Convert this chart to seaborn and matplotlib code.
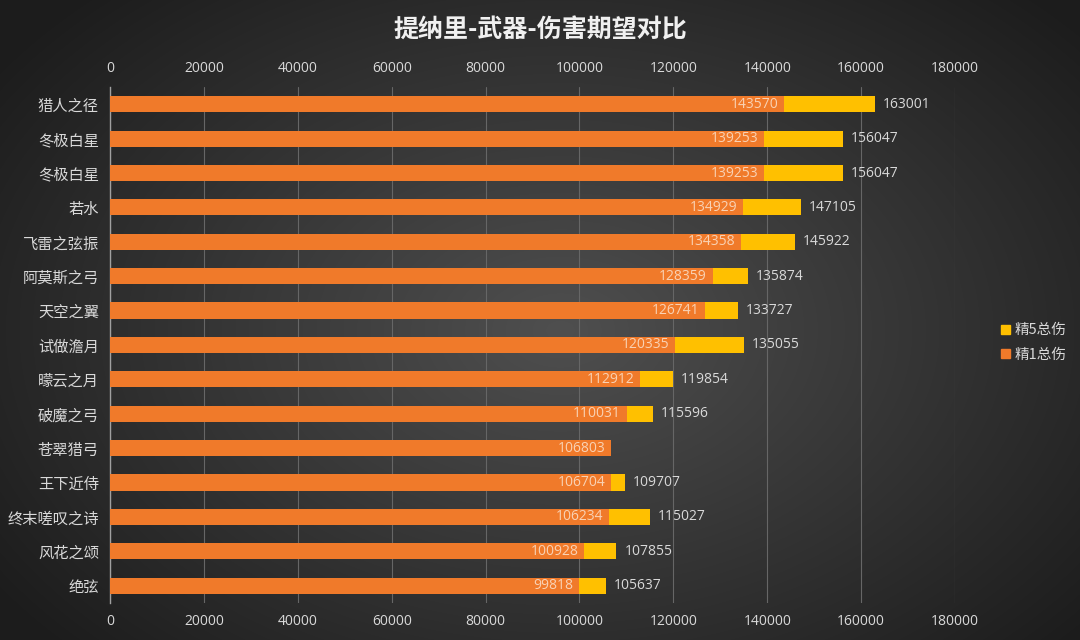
import numpy as np
import pandas as pd
import matplotlib
matplotlib.use("Agg")
import matplotlib.pyplot as plt
import seaborn as sns

# 数据
weapons = ["猎人之径", "冬极白星", "冬极白星", "若水", "飞雷之弦振", "阿莫斯之弓", "天空之翼",
           "试做澹月", "曚云之月", "破魔之弓", "苍翠猎弓", "王下近侍", "终末嗟叹之诗", "风花之颂", "绝弦"]
r1_dmg = [143570, 139253, 139253, 134929, 134358, 128359, 126741,
          120335, 112912, 110031, 106803, 106704, 106234, 100928, 99818]
r5_dmg = [163001, 156047, 156047, 147105, 145922, 135874, 133727,
          135055, 119854, 115596, np.nan, 109707, 115027, 107855, 105637]
x_ticks = [0, 20000, 40000, 60000, 80000, 100000, 120000, 140000, 160000, 180000]

df = pd.DataFrame({"pos": range(len(weapons)), "weapon": weapons,
                   "r1": r1_dmg, "r5": r5_dmg})

sns.set_theme(style="dark")
plt.rcParams["font.family"] = ["Noto Sans CJK SC", "DejaVu Sans"]

ORANGE = "#F07A2A"
YELLOW = "#FFC000"
TXT = "#d9d9d9"

fig = plt.figure(figsize=(10.8, 6.4), dpi=100)

# 背景渐变
bg = fig.add_axes([0, 0, 1, 1], zorder=-10)
yy, xx = np.mgrid[0:640, 0:1080]
d = np.sqrt(((xx - 560) / 620) ** 2 + ((yy - 330) / 420) ** 2)
v = np.clip(0.31 - 0.18 * d, 0.11, 0.32)
bg.imshow(np.dstack([v, v, v]), aspect="auto", extent=[0, 1, 0, 1])
bg.set_axis_off()

ax = fig.add_axes([0.1019, 0.058, 0.7824, 0.806])
ax.set_facecolor("none")

sns.barplot(data=df, x="r5", y="pos", orient="h", color=YELLOW, width=0.47,
            saturation=1, linewidth=0, ax=ax, zorder=3)
sns.barplot(data=df, x="r1", y="pos", orient="h", color=ORANGE, width=0.47,
            saturation=1, linewidth=0, ax=ax, zorder=4)

for i, (a, b) in enumerate(zip(r1_dmg, r5_dmg)):
    ax.text(a - 1200, i, str(a), ha="right", va="center", fontsize=10,
            color="#f9d2b4", zorder=6, family=["Open Sans", "DejaVu Sans"])
    if not np.isnan(b):
        ax.text(b + 1700, i, str(int(b)), ha="left", va="center", fontsize=10,
                color=TXT, zorder=6, family=["Open Sans", "DejaVu Sans"])

ax.set_xlim(0, 180000)
ax.set_ylim(14.5, -0.5)
ax.set_xticks(x_ticks)
ax.set_xticklabels([str(t) for t in x_ticks], family=["Open Sans", "DejaVu Sans"])
ax.set_yticks(range(len(weapons)))
ax.set_yticklabels(weapons)
ax.set_xlabel("")
ax.set_ylabel("")
ax.tick_params(axis="x", labeltop=True, labelbottom=True, length=0, pad=8,
               labelsize=10, labelcolor=TXT)
ax.tick_params(axis="y", length=0, pad=8, labelsize=11, labelcolor=TXT)
ax.grid(axis="x", color="#666666", linewidth=0.8)
ax.grid(axis="y", visible=False)
ax.set_axisbelow(True)
for s in ["top", "right", "bottom"]:
    ax.spines[s].set_visible(False)
ax.spines["left"].set_color("#a0a0a0")
ax.spines["left"].set_linewidth(1)

fig.text(0.5, 0.953, "提纳里-武器-伤害期望对比", ha="center", va="center",
         fontsize=18, fontweight="bold", color="#f0f0f0")

handles = [plt.Rectangle((0, 0), 1, 1, color=YELLOW), plt.Rectangle((0, 0), 1, 1, color=ORANGE)]
leg = fig.legend(handles, ["精5总伤", "精1总伤"], loc="center left",
                 bbox_to_anchor=(0.915, 0.465), frameon=False, fontsize=10.5,
                 handlelength=0.6, handleheight=0.6, handletextpad=0.3, labelspacing=0.7)
for t in leg.get_texts():
    t.set_color(TXT)

fig.savefig("out.png", dpi=100)
